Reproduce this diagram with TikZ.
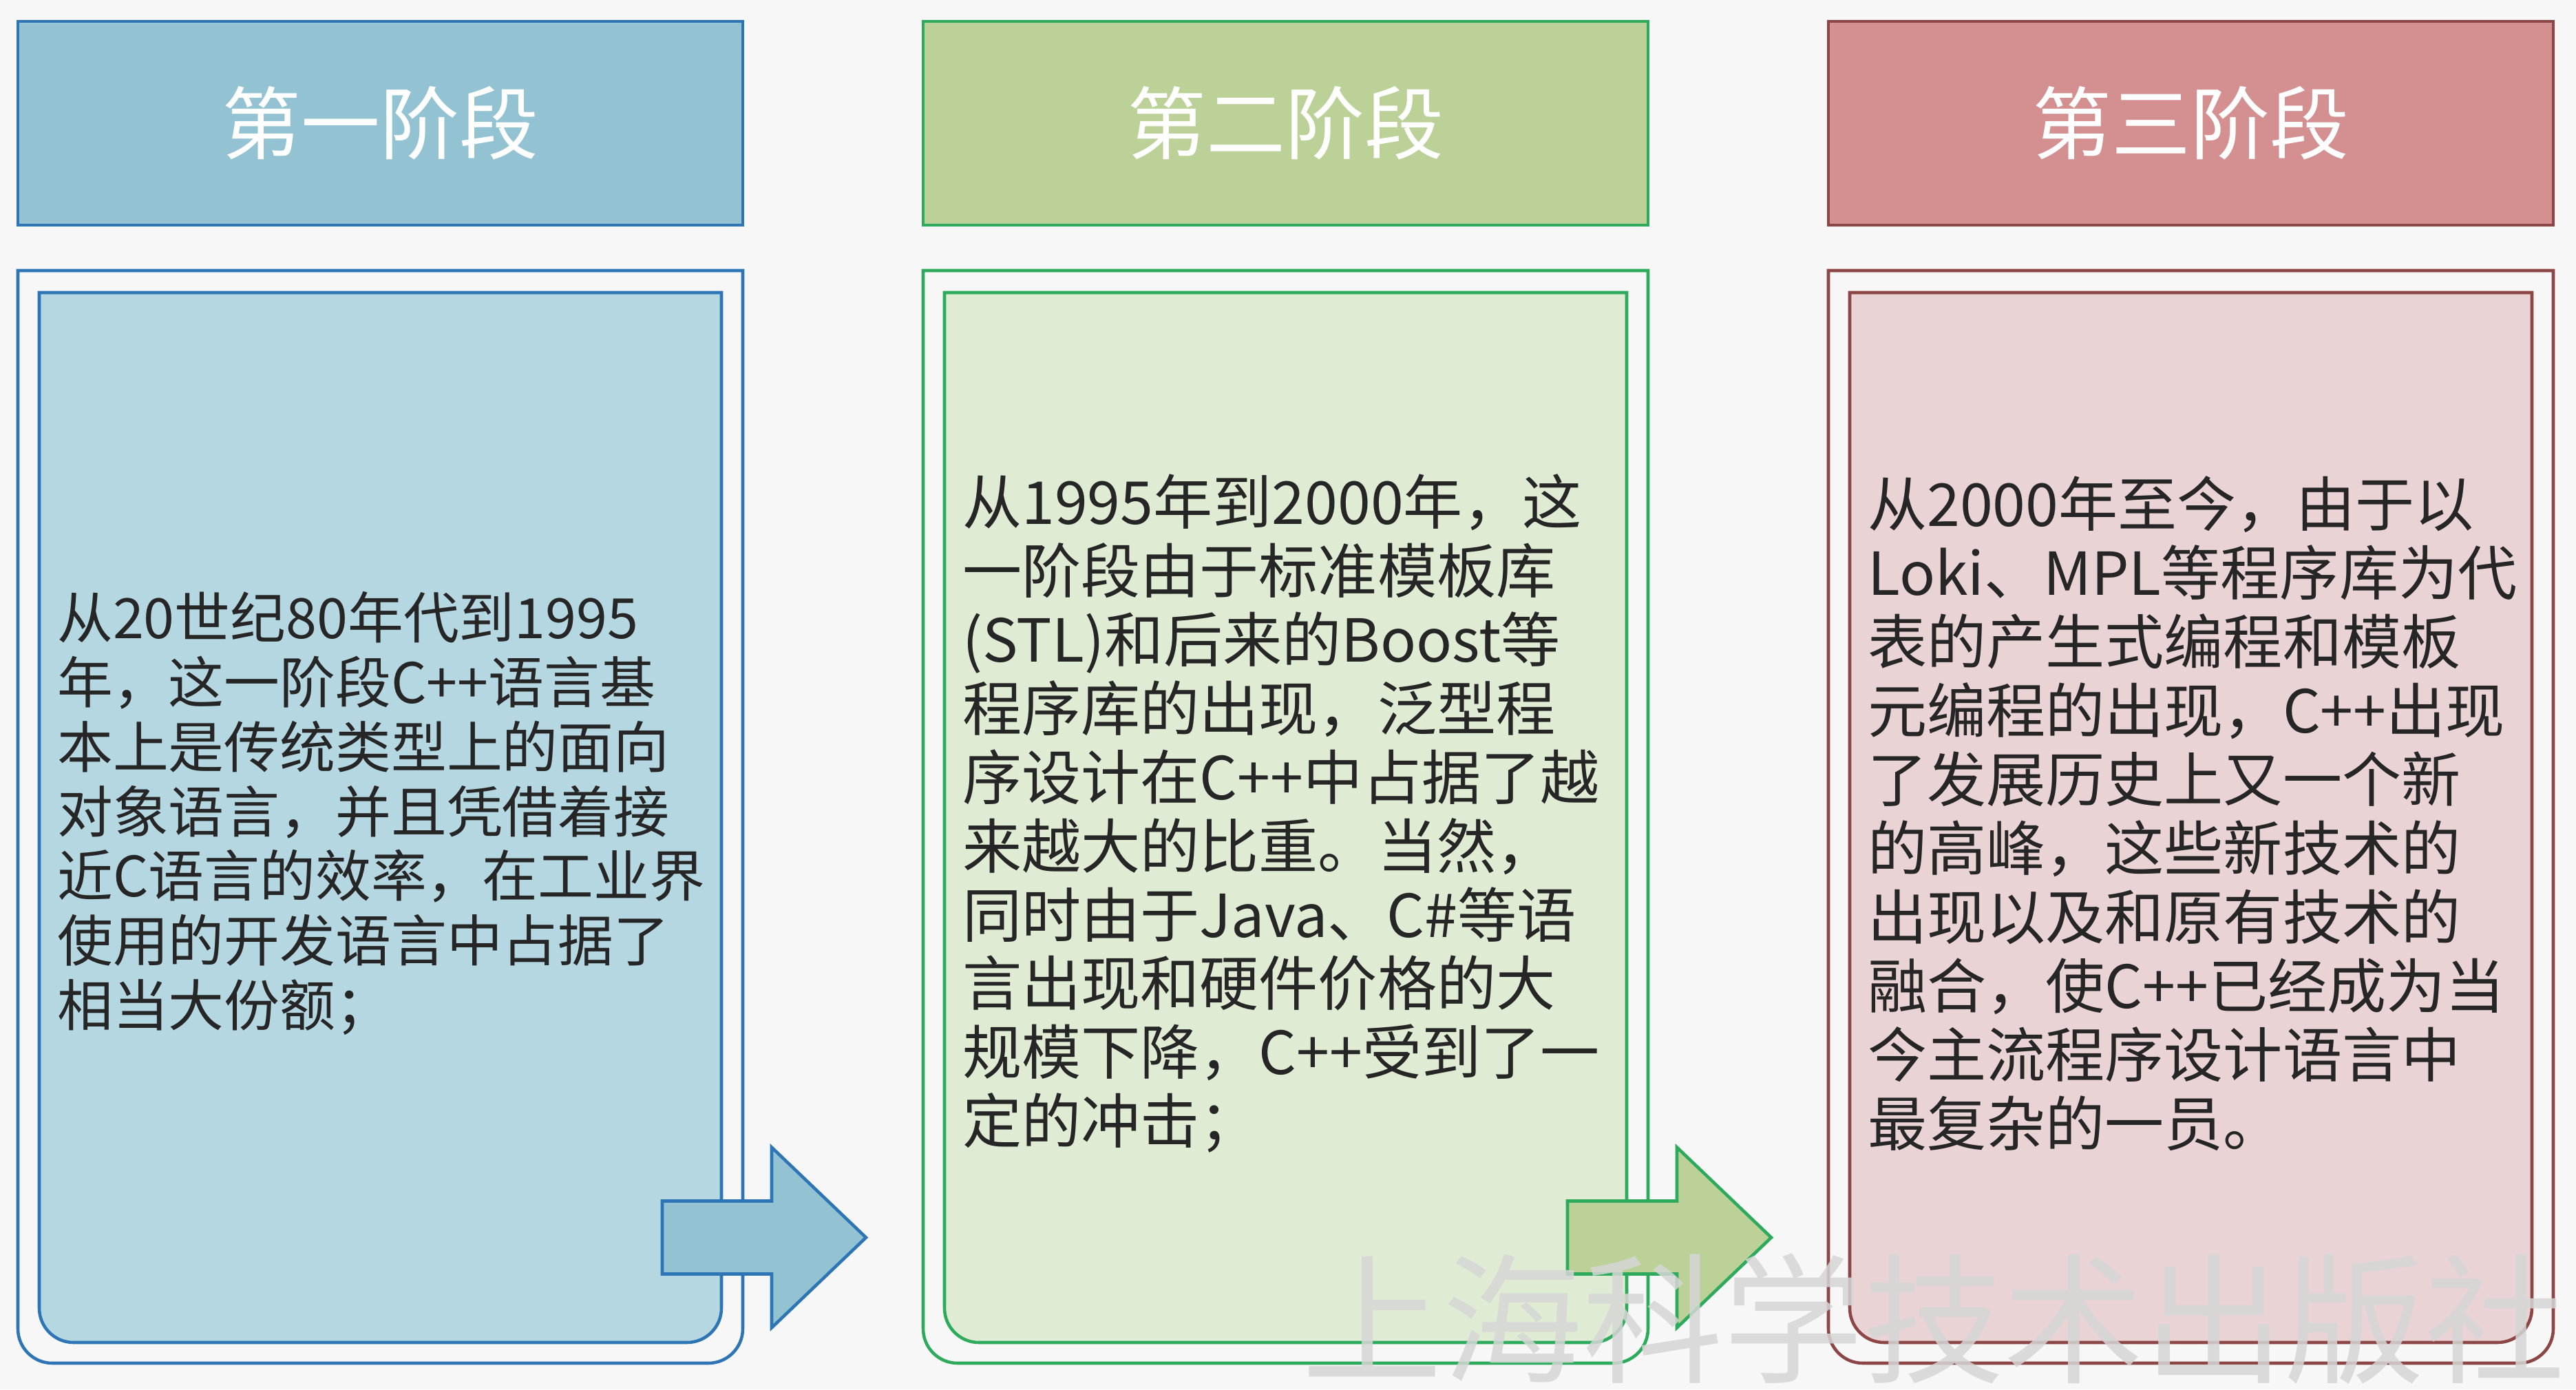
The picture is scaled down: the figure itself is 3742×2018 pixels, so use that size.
\documentclass[tikz,border=0pt]{standalone}
\usepackage{fontspec}
\setmainfont{Noto Sans CJK SC}
\usepackage{xcolor}
\usepackage{tikz}
\usetikzlibrary{positioning, calc}

\definecolor{bgcol}{HTML}{F7F7F7}
\definecolor{txtcol}{HTML}{262626}
\definecolor{bluebd}{HTML}{2E75B6}
\definecolor{bluehd}{HTML}{93C3D3}
\definecolor{bluein}{HTML}{B5D7E1}
\definecolor{greenbd}{HTML}{2EAA5C}
\definecolor{greenhd}{HTML}{BBD197}
\definecolor{greenin}{HTML}{E0EBD4}
\definecolor{redbd}{HTML}{8C4646}
\definecolor{redhd}{HTML}{D49090}
\definecolor{redin}{HTML}{E9D3D4}
\definecolor{wmcol}{HTML}{D6D6D6}

\begin{document}
\begin{tikzpicture}[
    x=0.1mm, y=-0.1mm,
    line width=1.3pt,
    head/.style={draw, minimum width=10.53cm, minimum height=2.96cm, inner sep=0pt, outer sep=0pt, text=white, font=\fontsize{32.7pt}{36pt}\selectfont},
    place/.style={inner sep=0pt, outer sep=0pt},
    body/.style={anchor=west, align=left, inner sep=0pt, text=txtcol},
    small/.style={font=\fontsize{23pt}{26.7pt}\selectfont},
    large/.style={font=\fontsize{24.5pt}{28.45pt}\selectfont},
    arr/.style={line join=miter},
    stamp/.style={text=wmcol, opacity=0.85, inner sep=0pt, font=\fontsize{58pt}{60pt}\selectfont}
]

    \def\xa{552.5}  % stage 1
    \def\xb{1867.5} % stage 2
    \def\xc{3182.5} % stage 3

    % background
    \fill[bgcol] (0,0) rectangle (3742,2018);
    \useasboundingbox (0,0) rectangle (3742,2018);

    % headers
    \node[head, draw=bluebd, fill=bluehd] (h1) at (\xa,179) {第一阶段};
    \node[head, draw=greenbd, fill=greenhd] (h2) at (\xb,179) {第二阶段};
    \node[head, draw=redbd, fill=redhd] (h3) at (\xc,179) {第三阶段};

    % frame placeholders
    \node[place, minimum width=10.53cm, minimum height=15.87cm] (o1) at (\xa,1186.5) {};
    \node[place, minimum width=10.53cm, minimum height=15.87cm] (o2) at (\xb,1186.5) {};
    \node[place, minimum width=10.53cm, minimum height=15.87cm] (o3) at (\xc,1186.5) {};
    \node[place, minimum width=9.91cm, minimum height=15.25cm] (i1) at (\xa,1187.5) {};
    \node[place, minimum width=9.91cm, minimum height=15.25cm] (i2) at (\xb,1187.5) {};
    \node[place, minimum width=9.91cm, minimum height=15.25cm] (i3) at (\xc,1187.5) {};

    % outer frames
    \filldraw[draw=bluebd, fill=bgcol] (o1.north west) [rounded corners=0.5cm] -- (o1.south west) -- (o1.south east) [sharp corners] -- (o1.north east) -- cycle;
    \filldraw[draw=greenbd, fill=bgcol] (o2.north west) [rounded corners=0.5cm] -- (o2.south west) -- (o2.south east) [sharp corners] -- (o2.north east) -- cycle;
    \filldraw[draw=redbd, fill=bgcol] (o3.north west) [rounded corners=0.5cm] -- (o3.south west) -- (o3.south east) [sharp corners] -- (o3.north east) -- cycle;

    % inner cards
    \filldraw[draw=bluebd, fill=bluein] (i1.north west) [rounded corners=0.5cm] -- (i1.south west) -- (i1.south east) [sharp corners] -- (i1.north east) -- cycle;
    \filldraw[draw=greenbd, fill=greenin] (i2.north west) [rounded corners=0.5cm] -- (i2.south west) -- (i2.south east) [sharp corners] -- (i2.north east) -- cycle;
    \filldraw[draw=redbd, fill=redin] (i3.north west) [rounded corners=0.5cm] -- (i3.south west) -- (i3.south east) [sharp corners] -- (i3.north east) -- cycle;

    % texts
    \node[body, small] (t1) at ($(i1.west)+(24,-6)$) {从20世纪80年代到1995\\年，这一阶段C++语言基\\本上是传统类型上的面向\\对象语言，并且凭借着接\\近C语言的效率，在工业界\\使用的开发语言中占据了\\相当大份额；};
    \node[body, large] (t2) at ($(i2.west)+(24,-6)$) {从1995年到2000年，这\\一阶段由于标准模板库\\(STL)和后来的Boost等\\程序库的出现，泛型程\\序设计在C++中占据了越\\来越大的比重。当然，\\同时由于Java、C\#等语\\言出现和硬件价格的大\\规模下降，C++受到了一\\定的冲击；};
    \node[body, large] (t3) at ($(i3.west)+(24,-6)$) {从2000年至今，由于以\\Loki、MPL等程序库为代\\表的产生式编程和模板\\元编程的出现，C++出现\\了发展历史上又一个新\\的高峰，这些新技术的\\出现以及和原有技术的\\融合，使C++已经成为当\\今主流程序设计语言中\\最复杂的一员。};

    % arrows between stages
    \coordinate (a1) at ($(i1.east)+(-86,610)$);
    \coordinate (a2) at ($(i2.east)+(-86,610)$);
    \filldraw[arr, draw=bluebd, fill=bluehd] (a1) ++(0,-53) -- ++(159,0) -- ++(0,-78) -- ++(137,131) -- ++(-137,131) -- ++(0,-78) -- ++(-159,0) -- cycle;
    \filldraw[arr, draw=greenbd, fill=greenhd] (a2) ++(0,-53) -- ++(159,0) -- ++(0,-78) -- ++(137,131) -- ++(-137,131) -- ++(0,-78) -- ++(-159,0) -- cycle;

    % watermark
    \node[stamp] (wm) at (2809,1916) {上海科学技术出版社};
\end{tikzpicture}
\end{document}
